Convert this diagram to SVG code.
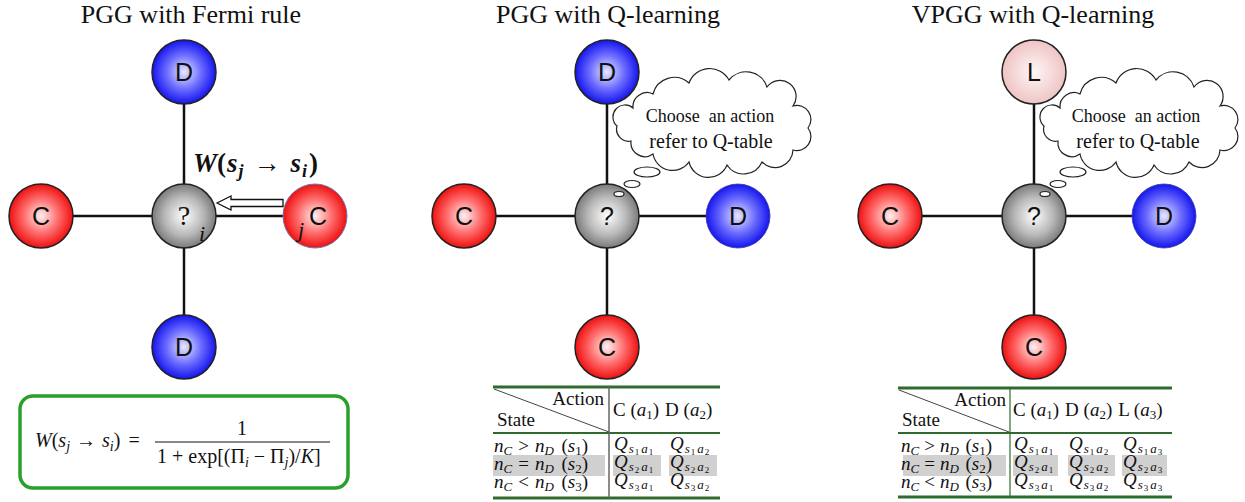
<svg xmlns="http://www.w3.org/2000/svg" width="1245" height="502" viewBox="0 0 1245 502">
<defs>
<radialGradient id="gRed" cx="50%" cy="50%" r="50%"><stop offset="0" stop-color="#fff0f0"/><stop offset="0.55" stop-color="#ff6a6a"/><stop offset="1" stop-color="#ee1010"/></radialGradient>
<radialGradient id="gBlue" cx="50%" cy="50%" r="50%"><stop offset="0" stop-color="#e8e8ff"/><stop offset="0.55" stop-color="#6a6aff"/><stop offset="1" stop-color="#1515ee"/></radialGradient>
<radialGradient id="gGray" cx="50%" cy="50%" r="50%"><stop offset="0" stop-color="#ffffff"/><stop offset="0.6" stop-color="#b8b8b8"/><stop offset="1" stop-color="#7a7a7a"/></radialGradient>
<radialGradient id="gPink" cx="50%" cy="50%" r="50%"><stop offset="0" stop-color="#fff6f6"/><stop offset="1" stop-color="#efc4c4"/></radialGradient>
<path id="cloud" d="M 0 48 A 12 12 0 0 1 16 30 A 14 14 0 0 1 36 16 A 22 22 0 0 1 72 5 A 22 22 0 0 1 112 2 A 22 22 0 0 1 150 9 A 16 16 0 0 1 176 28 A 14 14 0 0 1 191 50 A 14 14 0 0 1 176 72 A 18 18 0 0 1 145 84 A 20 20 0 0 1 110 87 A 20 20 0 0 1 72 84 A 20 20 0 0 1 36 76 A 14 14 0 0 1 14 63 A 12 12 0 0 1 0 48 Z"/>
</defs>
<style>
.title{font-family:"Liberation Serif",serif;font-size:26px;fill:#111;text-anchor:middle}
.lbl{font-family:"Liberation Sans",Arial,sans-serif;font-size:25px;fill:#111;text-anchor:middle}
.ball{stroke:#222;stroke-width:1.5}
.conn line{stroke:#111;stroke-width:2.5}
.cl{font-family:"Liberation Serif",serif;fill:#111;text-anchor:middle}
.m{font-family:"Liberation Serif",serif;fill:#111}
.it{font-style:italic}
.tb{font-family:"Liberation Serif",serif;font-size:19px;fill:#111}
.q{font-family:"Liberation Serif",serif;font-size:19px;font-style:italic;fill:#111}
.gline{stroke:#2e6b2e}
.hl{fill:#d0d0d0}
.bub{fill:#fff;stroke:#222;stroke-width:1.2}
</style>
<rect width="1245" height="502" fill="#fff"/>

<text class="title" x="191" y="23">PGG with Fermi rule</text>
<text class="title" x="608" y="23">PGG with Q-learning</text>
<text class="title" x="1033" y="23">VPGG with Q-learning</text>

<g id="connectors" class="conn">
<line x1="184" y1="72" x2="184" y2="347"/><line x1="41" y1="216" x2="315" y2="216"/>
<line x1="607" y1="72" x2="607" y2="347"/><line x1="464" y1="216" x2="738" y2="216"/>
<line x1="1034" y1="72" x2="1034" y2="347"/><line x1="890" y1="216" x2="1164" y2="216"/>
</g>

<!-- Panel 1 -->
<g id="p1-top"><circle class="ball" cx="184" cy="72" r="32" fill="url(#gBlue)"/><text class="lbl" x="184" y="81">D</text></g>
<g id="p1-left"><circle class="ball" cx="41" cy="216" r="32" fill="url(#gRed)"/><text class="lbl" x="41" y="225">C</text></g>
<g id="p1-center"><circle class="ball" cx="184" cy="216" r="32" fill="url(#gGray)"/><text class="m" x="184" y="225" font-size="28" text-anchor="middle">?</text><text class="m it" x="199" y="241" font-size="22">i</text></g>
<g id="p1-right"><circle cx="315" cy="216" r="32" fill="url(#gRed)" stroke="#6a7ab0" stroke-width="1"/><text class="lbl" x="318" y="225">C</text><text class="m it" x="298" y="237" font-size="22">j</text></g>
<g id="p1-bottom"><circle class="ball" cx="184" cy="347" r="32" fill="url(#gBlue)"/><text class="lbl" x="184" y="356">D</text></g>
<g id="p1-arrow"><polygon points="217,203 231,196 231,199.5 283,199.5 283,206.5 231,206.5 231,210" fill="#fff" stroke="#111" stroke-width="1.3"/></g>
<g id="p1-wlabel"><text class="m" x="193" y="172" font-size="27" font-weight="bold"><tspan class="it">W</tspan>(<tspan class="it" dx="1">s</tspan><tspan class="it" font-size="18" dy="5" dx="1">j</tspan><tspan dy="-5" dx="10">→</tspan><tspan class="it" dx="10">s</tspan><tspan class="it" font-size="18" dy="5" dx="1">i</tspan><tspan dy="-5" dx="2">)</tspan></text></g>

<g id="formula">
<rect x="20" y="396" width="328" height="92" rx="13" fill="#fff" stroke="#2aa02a" stroke-width="3.5"/>
<text class="m" x="35" y="447" font-size="20"><tspan class="it">W</tspan>(<tspan class="it">s</tspan><tspan class="it" font-size="14" dy="4">j</tspan><tspan dy="-4" dx="6">→</tspan><tspan class="it" dx="6">s</tspan><tspan class="it" font-size="14" dy="4">i</tspan><tspan dy="-4">)</tspan><tspan dx="8">=</tspan></text>
<text class="m" x="242" y="435" font-size="20" text-anchor="middle">1</text>
<line x1="155" y1="442" x2="330" y2="442" stroke="#111" stroke-width="1"/>
<text class="m" x="157" y="463" font-size="20">1<tspan dx="5">+</tspan><tspan dx="5">exp[(Π</tspan><tspan class="it" font-size="14" dy="4">i</tspan><tspan dy="-4" dx="5">−</tspan><tspan dx="5">Π</tspan><tspan class="it" font-size="14" dy="4">j</tspan><tspan dy="-4">)/</tspan><tspan class="it">K</tspan>]</text>
</g>

<!-- Panel 2 -->
<g id="p2-top"><circle class="ball" cx="607" cy="72" r="32" fill="url(#gBlue)"/><text class="lbl" x="607" y="81">D</text></g>
<g id="p2-left"><circle class="ball" cx="464" cy="216" r="32" fill="url(#gRed)"/><text class="lbl" x="464" y="225">C</text></g>
<g id="p2-center"><circle class="ball" cx="607" cy="216" r="32" fill="url(#gGray)"/><text class="lbl" x="607" y="225">?</text></g>
<g id="p2-right"><circle cx="738" cy="216" r="32" fill="url(#gBlue)" stroke="#3a3aa0" stroke-width="0.8"/><text class="lbl" x="738" y="225">D</text></g>
<g id="p2-bottom"><circle class="ball" cx="607" cy="347" r="32" fill="url(#gRed)"/><text class="lbl" x="607" y="356">C</text></g>
<g id="p2-thought">
<use href="#cloud" transform="translate(617,78)" class="bub"/>
<ellipse class="bub" cx="647" cy="172" rx="13" ry="5"/>
<ellipse class="bub" cx="632" cy="184" rx="8" ry="3.5"/>
<ellipse class="bub" cx="619" cy="194" rx="5" ry="2.5"/>
<text class="cl" x="710" y="122" font-size="18" xml:space="preserve">Choose  an action</text>
<text class="cl" x="711" y="148" font-size="20">refer to Q-table</text>
</g>

<g id="p2-table">
<rect class="hl" x="493" y="455" width="112" height="21"/>
<rect class="hl" x="613" y="455" width="48" height="21"/>
<rect class="hl" x="669" y="455" width="48" height="21"/>
<line class="gline" x1="493" y1="387" x2="720" y2="387" stroke-width="3"/>
<line class="gline" x1="493" y1="433" x2="720" y2="433" stroke-width="1.8"/>
<line class="gline" x1="493" y1="498" x2="720" y2="498" stroke-width="3"/>
<line x1="609" y1="387" x2="609" y2="498" stroke="#666" stroke-width="1.5"/>
<line x1="494" y1="389" x2="609" y2="432" stroke="#444" stroke-width="1"/>
<text class="tb" x="604" y="405" text-anchor="end">Action</text>
<text class="tb" x="497" y="426">State</text>
<text class="tb" x="613" y="416">C (<tspan class="it">a</tspan><tspan font-size="13" dy="3">1</tspan><tspan dy="-3">)</tspan><tspan dx="6">D (</tspan><tspan class="it">a</tspan><tspan font-size="13" dy="3">2</tspan><tspan dy="-3">)</tspan></text>
<text class="tb" x="494" y="452"><tspan class="it">n</tspan><tspan class="it" font-size="13" dy="3">C</tspan><tspan dy="-3" dx="6">&gt;</tspan><tspan class="it" dx="6">n</tspan><tspan class="it" font-size="13" dy="3">D</tspan><tspan dy="-3" dx="3"> (</tspan><tspan class="it">s</tspan><tspan font-size="13" dy="3">1</tspan><tspan dy="-3">)</tspan></text>
<text class="tb" x="494" y="470"><tspan class="it">n</tspan><tspan class="it" font-size="13" dy="3">C</tspan><tspan dy="-3" dx="6">=</tspan><tspan class="it" dx="6">n</tspan><tspan class="it" font-size="13" dy="3">D</tspan><tspan dy="-3" dx="3"> (</tspan><tspan class="it">s</tspan><tspan font-size="13" dy="3">2</tspan><tspan dy="-3">)</tspan></text>
<text class="tb" x="494" y="488"><tspan class="it">n</tspan><tspan class="it" font-size="13" dy="3">C</tspan><tspan dy="-3" dx="6">&lt;</tspan><tspan class="it" dx="6">n</tspan><tspan class="it" font-size="13" dy="3">D</tspan><tspan dy="-3" dx="3"> (</tspan><tspan class="it">s</tspan><tspan font-size="13" dy="3">3</tspan><tspan dy="-3">)</tspan></text>
<text class="q" x="614" y="450">Q<tspan font-size="13" dy="3" dx="1">s</tspan><tspan font-size="9" dy="2" dx="1" font-style="normal">1</tspan><tspan font-size="13" dy="-2" dx="2">a</tspan><tspan font-size="9" dy="2" dx="1" font-style="normal">1</tspan></text>
<text class="q" x="670" y="450">Q<tspan font-size="13" dy="3" dx="1">s</tspan><tspan font-size="9" dy="2" dx="1" font-style="normal">1</tspan><tspan font-size="13" dy="-2" dx="2">a</tspan><tspan font-size="9" dy="2" dx="1" font-style="normal">2</tspan></text>
<text class="q" x="614" y="468">Q<tspan font-size="13" dy="3" dx="1">s</tspan><tspan font-size="9" dy="2" dx="1" font-style="normal">2</tspan><tspan font-size="13" dy="-2" dx="2">a</tspan><tspan font-size="9" dy="2" dx="1" font-style="normal">1</tspan></text>
<text class="q" x="670" y="468">Q<tspan font-size="13" dy="3" dx="1">s</tspan><tspan font-size="9" dy="2" dx="1" font-style="normal">2</tspan><tspan font-size="13" dy="-2" dx="2">a</tspan><tspan font-size="9" dy="2" dx="1" font-style="normal">2</tspan></text>
<text class="q" x="614" y="486">Q<tspan font-size="13" dy="3" dx="1">s</tspan><tspan font-size="9" dy="2" dx="1" font-style="normal">3</tspan><tspan font-size="13" dy="-2" dx="2">a</tspan><tspan font-size="9" dy="2" dx="1" font-style="normal">1</tspan></text>
<text class="q" x="670" y="486">Q<tspan font-size="13" dy="3" dx="1">s</tspan><tspan font-size="9" dy="2" dx="1" font-style="normal">3</tspan><tspan font-size="13" dy="-2" dx="2">a</tspan><tspan font-size="9" dy="2" dx="1" font-style="normal">2</tspan></text>
</g>

<!-- Panel 3 -->
<g id="p3-top"><circle class="ball" cx="1034" cy="72" r="32" fill="url(#gPink)"/><text class="lbl" x="1034" y="81">L</text></g>
<g id="p3-left"><circle class="ball" cx="890" cy="216" r="32" fill="url(#gRed)"/><text class="lbl" x="890" y="225">C</text></g>
<g id="p3-center"><circle class="ball" cx="1034" cy="216" r="32" fill="url(#gGray)"/><text class="lbl" x="1034" y="225">?</text></g>
<g id="p3-right"><circle cx="1164" cy="216" r="32" fill="url(#gBlue)" stroke="#3a3aa0" stroke-width="0.8"/><text class="lbl" x="1164" y="225">D</text></g>
<g id="p3-bottom"><circle class="ball" cx="1034" cy="347" r="32" fill="url(#gRed)"/><text class="lbl" x="1034" y="356">C</text></g>
<g id="p3-thought">
<use href="#cloud" transform="translate(1044,78)" class="bub"/>
<ellipse class="bub" cx="1073" cy="172" rx="13" ry="5"/>
<ellipse class="bub" cx="1058" cy="184" rx="8" ry="3.5"/>
<ellipse class="bub" cx="1045" cy="194" rx="5" ry="2.5"/>
<text class="cl" x="1136" y="122" font-size="18" xml:space="preserve">Choose  an action</text>
<text class="cl" x="1138" y="148" font-size="20">refer to Q-table</text>
</g>

<g id="p3-table">
<rect class="hl" x="903" y="455" width="103" height="21"/>
<rect class="hl" x="1013" y="455" width="45" height="21"/>
<rect class="hl" x="1068" y="455" width="47" height="21"/>
<rect class="hl" x="1122" y="455" width="45" height="21"/>
<line class="gline" x1="898" y1="388" x2="1172" y2="388" stroke-width="3"/>
<line class="gline" x1="898" y1="433" x2="1172" y2="433" stroke-width="1.8"/>
<line class="gline" x1="898" y1="497" x2="1172" y2="497" stroke-width="3"/>
<line x1="1010" y1="388" x2="1010" y2="497" stroke="#2e6b2e" stroke-width="1.2"/>
<line x1="899" y1="390" x2="1009" y2="432" stroke="#444" stroke-width="1"/>
<text class="tb" x="1006" y="406" text-anchor="end">Action</text>
<text class="tb" x="902" y="426">State</text>
<text class="tb" x="1013" y="416">C (<tspan class="it">a</tspan><tspan font-size="13" dy="3">1</tspan><tspan dy="-3">)</tspan><tspan dx="6">D (</tspan><tspan class="it">a</tspan><tspan font-size="13" dy="3">2</tspan><tspan dy="-3">)</tspan><tspan dx="6">L (</tspan><tspan class="it">a</tspan><tspan font-size="13" dy="3">3</tspan><tspan dy="-3">)</tspan></text>
<text class="tb" x="901" y="452"><tspan class="it">n</tspan><tspan class="it" font-size="13" dy="3">C</tspan><tspan dy="-3" dx="5">&gt;</tspan><tspan class="it" dx="5">n</tspan><tspan class="it" font-size="13" dy="3">D</tspan><tspan dy="-3" dx="2"> (</tspan><tspan class="it">s</tspan><tspan font-size="13" dy="3">1</tspan><tspan dy="-3">)</tspan></text>
<text class="tb" x="901" y="470"><tspan class="it">n</tspan><tspan class="it" font-size="13" dy="3">C</tspan><tspan dy="-3" dx="5">=</tspan><tspan class="it" dx="5">n</tspan><tspan class="it" font-size="13" dy="3">D</tspan><tspan dy="-3" dx="2"> (</tspan><tspan class="it">s</tspan><tspan font-size="13" dy="3">2</tspan><tspan dy="-3">)</tspan></text>
<text class="tb" x="901" y="488"><tspan class="it">n</tspan><tspan class="it" font-size="13" dy="3">C</tspan><tspan dy="-3" dx="5">&lt;</tspan><tspan class="it" dx="5">n</tspan><tspan class="it" font-size="13" dy="3">D</tspan><tspan dy="-3" dx="2"> (</tspan><tspan class="it">s</tspan><tspan font-size="13" dy="3">3</tspan><tspan dy="-3">)</tspan></text>
<text class="q" x="1014" y="450">Q<tspan font-size="13" dy="3" dx="1">s</tspan><tspan font-size="9" dy="2" dx="1" font-style="normal">1</tspan><tspan font-size="13" dy="-2" dx="2">a</tspan><tspan font-size="9" dy="2" dx="1" font-style="normal">1</tspan></text>
<text class="q" x="1069" y="450">Q<tspan font-size="13" dy="3" dx="1">s</tspan><tspan font-size="9" dy="2" dx="1" font-style="normal">1</tspan><tspan font-size="13" dy="-2" dx="2">a</tspan><tspan font-size="9" dy="2" dx="1" font-style="normal">2</tspan></text>
<text class="q" x="1123" y="450">Q<tspan font-size="13" dy="3" dx="1">s</tspan><tspan font-size="9" dy="2" dx="1" font-style="normal">1</tspan><tspan font-size="13" dy="-2" dx="2">a</tspan><tspan font-size="9" dy="2" dx="1" font-style="normal">3</tspan></text>
<text class="q" x="1014" y="468">Q<tspan font-size="13" dy="3" dx="1">s</tspan><tspan font-size="9" dy="2" dx="1" font-style="normal">2</tspan><tspan font-size="13" dy="-2" dx="2">a</tspan><tspan font-size="9" dy="2" dx="1" font-style="normal">1</tspan></text>
<text class="q" x="1069" y="468">Q<tspan font-size="13" dy="3" dx="1">s</tspan><tspan font-size="9" dy="2" dx="1" font-style="normal">2</tspan><tspan font-size="13" dy="-2" dx="2">a</tspan><tspan font-size="9" dy="2" dx="1" font-style="normal">2</tspan></text>
<text class="q" x="1123" y="468">Q<tspan font-size="13" dy="3" dx="1">s</tspan><tspan font-size="9" dy="2" dx="1" font-style="normal">2</tspan><tspan font-size="13" dy="-2" dx="2">a</tspan><tspan font-size="9" dy="2" dx="1" font-style="normal">3</tspan></text>
<text class="q" x="1014" y="486">Q<tspan font-size="13" dy="3" dx="1">s</tspan><tspan font-size="9" dy="2" dx="1" font-style="normal">3</tspan><tspan font-size="13" dy="-2" dx="2">a</tspan><tspan font-size="9" dy="2" dx="1" font-style="normal">1</tspan></text>
<text class="q" x="1069" y="486">Q<tspan font-size="13" dy="3" dx="1">s</tspan><tspan font-size="9" dy="2" dx="1" font-style="normal">3</tspan><tspan font-size="13" dy="-2" dx="2">a</tspan><tspan font-size="9" dy="2" dx="1" font-style="normal">2</tspan></text>
<text class="q" x="1123" y="486">Q<tspan font-size="13" dy="3" dx="1">s</tspan><tspan font-size="9" dy="2" dx="1" font-style="normal">3</tspan><tspan font-size="13" dy="-2" dx="2">a</tspan><tspan font-size="9" dy="2" dx="1" font-style="normal">3</tspan></text>
</g>
</svg>
